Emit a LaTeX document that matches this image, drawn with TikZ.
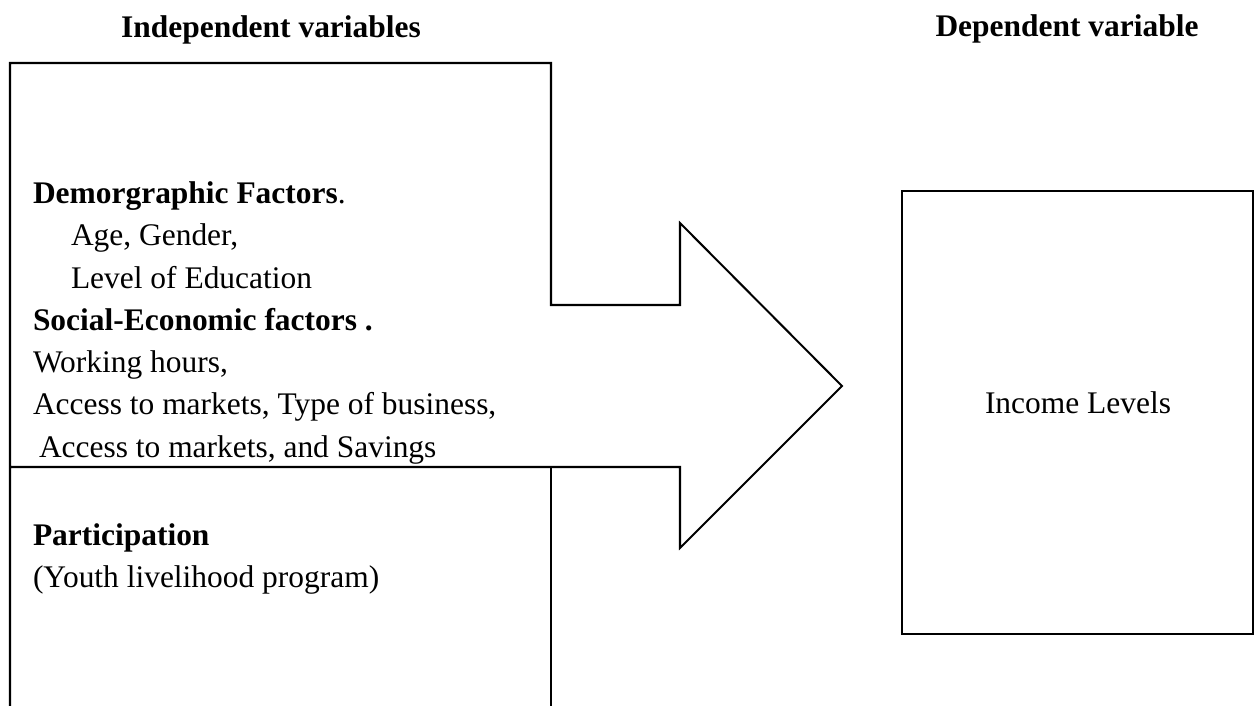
\documentclass[tikz,border=0pt]{standalone}
\usepackage{fontspec}
\setmainfont{Liberation Serif}

\begin{document}
\begin{tikzpicture}[x=0.02cm, y=-0.02cm, line width=1.15pt,
    txt/.style={anchor=base west, inner sep=0pt, font=\fontsize{17.9}{24}\selectfont},
    head/.style={anchor=base, inner sep=0pt, font=\fontsize{17.9}{24}\selectfont\bfseries}]
        \useasboundingbox (0,0) rectangle (1255,706);
        % headings
        \node[head] (indep) at (271,38) {Independent variables};
        \node[head] (dep) at (1067,37) {Dependent variable};
        % box of the independent variables, running into the big arrow
        \draw[line join=miter] (10,712) -- (10,63) -- (551,63) -- (551,305) -- (680,305) -- (680,223)
            -- (842,386) -- (680,548) -- (680,467) -- (10,467);
        \draw (551,467) -- (551,712);
        \node[txt] (demo) at (32,203) {\textbf{Demorgraphic Factors}.};
        \node[txt] (age) at (70,245) {Age, Gender,};
        \node[txt] (edu) at (70,288) {Level of Education};
        \node[txt] (socio) at (32,330) {\textbf{Social-Economic factors .}};
        \node[txt] (hours) at (32,372) {Working hours,};
        \node[txt] (markets) at (32,414) {Access to markets, Type of business,};
        \node[txt] (savings) at (38,457) {Access to markets, and Savings};
        \node[txt] (part) at (32,545) {\textbf{Participation}};
        \node[txt] (youth) at (32,587) {(Youth livelihood program)};
        % dependent variable
        \node[draw, line width=1.4pt, minimum width=7.02cm, minimum height=8.86cm] (depbox) at (1077.5,412.5) {};
        \node[txt, anchor=base] (income) at (1078,413) {Income Levels};
    \end{tikzpicture}
\end{document}
